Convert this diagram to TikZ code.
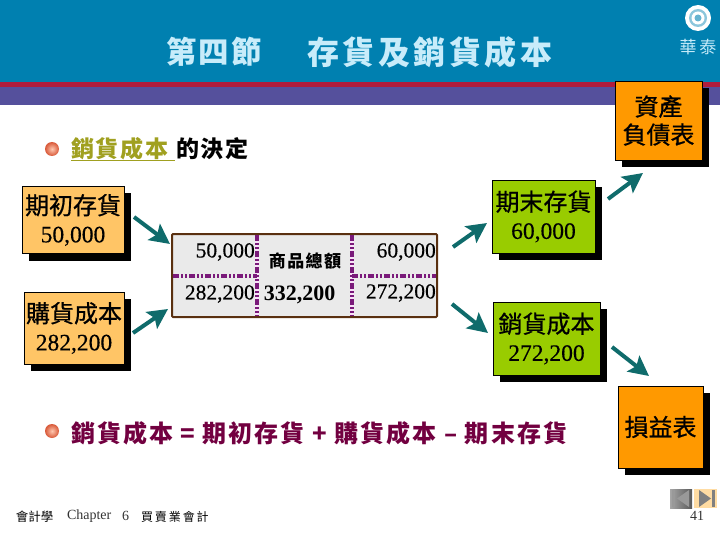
\documentclass[tikz,border=0pt]{standalone}
\usepackage{fontspec}
\setmainfont{Liberation Serif}
\newfontfamily\numfont[FakeBold=0.35]{Liberation Serif}
\newfontfamily\cjk[FakeBold=0.7]{Noto Sans CJK TC}
\newfontfamily\cjkplain{Noto Sans CJK TC}
\newfontfamily\cjksp[LetterSpace=8]{Noto Sans CJK TC}
\newfontfamily\cjkspb[LetterSpace=8.5]{Noto Sans CJK TC}
\newfontfamily\cjkspc[LetterSpace=11]{Noto Sans CJK TC}
\newfontfamily\cjkwide[LetterSpace=16]{Noto Sans CJK TC}
\usetikzlibrary{arrows.meta,shadows}
\definecolor{band}{HTML}{0080B0}
\definecolor{redline}{HTML}{B01C3C}
\definecolor{purpband}{HTML}{55509C}
\definecolor{titlec}{HTML}{C8ECFA}
\definecolor{lightor}{HTML}{FFC566}
\definecolor{strongor}{HTML}{FF9900}
\definecolor{boxgreen}{HTML}{99CC00}
\definecolor{tablefill}{HTML}{EAEAEA}
\definecolor{tableedge}{HTML}{5A3010}
\definecolor{dashc}{HTML}{7A1A7A}
\definecolor{dashbg}{HTML}{F8E0F8}
\definecolor{arrowc}{HTML}{0F6B6B}
\definecolor{olive}{HTML}{A0A020}
\definecolor{maroon}{HTML}{720040}
\definecolor{ballin}{HTML}{FFC8B0}
\definecolor{ballout}{HTML}{D85838}
\tikzset{
  cardbox/.style={draw=black,line width=0.8pt,inner sep=0pt,outer sep=0pt,align=center,
    general shadow={fill=black,shadow xshift=7pt,shadow yshift=-7pt},
    font=\fontsize{23.5}{29}\selectfont\numfont},
  flow/.style={draw=arrowc,line width=4pt,-{Stealth[length=20pt,width=20pt,inset=4pt]}},
  dividerbg/.style={draw=dashbg,line width=3.5pt},
  divider/.style={draw=dashc,line width=3.2pt,dash pattern=on 6pt off 2pt on 2pt off 2pt on 2pt off 2pt},
  cellnum/.style={anchor=east,inner sep=0pt,font=\fontsize{21.5}{21.5}\selectfont\numfont},
  ballbullet/.style={circle,minimum size=14pt,inner sep=0pt,shading=radial,inner color=ballin,outer color=ballout},
  plain/.style={inner sep=0pt,outer sep=0pt},
}
\newcommand{\cj}[1]{{\fontsize{24}{29}\selectfont\cjk #1}}
\begin{document}
\begin{tikzpicture}[x=1pt,y=-1pt]
\useasboundingbox (0,0) rectangle (720,540);
% banner
\fill[band] (0,0) rectangle (720,82);
\fill[redline] (0,82) rectangle (720,87);
\fill[purpband] (0,87) rectangle (720,105);
% logo
\fill[white] (698,18) circle (13);
\fill[band!45!white] (698,18) circle (9);
\fill[white] (698,18) circle (6.5);
\fill[band!60!white] (698,18) circle (3.5);
\node[plain,text=titlec,font=\fontsize{17}{17}\selectfont\cjkwide] (logotext) at (698,47) {華泰};
% title
\node[plain,anchor=west,text=titlec,font=\fontsize{30.5}{30}\selectfont\cjksp\bfseries] (t1) at (166,52) {第四節};
\node[plain,anchor=west,text=titlec,font=\fontsize{32}{32}\selectfont\cjkspc\bfseries] (t2) at (307,52) {存貨及銷貨成本};
% bullets
\node[ballbullet] (b1) at (52,149) {};
\node[plain,anchor=west,text=olive,font=\fontsize{23}{23}\selectfont\cjksp\bfseries] (h1) at (71,149) {銷貨成本};
\draw[olive,line width=1.5pt] (71,160.5) -- (175,160.5);
\node[plain,anchor=west,font=\fontsize{23}{23}\selectfont\cjksp\bfseries] (h2) at (176,149) {的決定};
\node[ballbullet] (b2) at (52,431) {};
\node[plain,anchor=west,text=maroon,font=\fontsize{24}{24}\selectfont\cjkspb\bfseries] (eq) at (71,433) {銷貨成本 = 期初存貨 + 購貨成本 – 期末存貨};
% boxes
\node[cardbox,fill=strongor,minimum width=87pt,minimum height=79pt] (bs) at (658.5,120.5) {\cj{資產}\\[-1pt]\cj{負債表}};
\node[cardbox,fill=lightor,minimum width=102pt,minimum height=67pt] (open) at (73,220) {\cj{期初存貨}\\[-1pt]50,000};
\node[cardbox,fill=lightor,minimum width=100pt,minimum height=72pt] (purch) at (74,328) {\cj{購貨成本}\\[-1pt]282,200};
\node[cardbox,fill=boxgreen,minimum width=103pt,minimum height=73pt] (end) at (543.5,216.5) {\cj{期末存貨}\\[-1pt]60,000};
\node[cardbox,fill=boxgreen,minimum width=107pt,minimum height=73pt] (cogs) at (546.5,338.5) {\cj{銷貨成本}\\[-1pt]272,200};
\node[cardbox,fill=strongor,minimum width=85pt,minimum height=82pt] (is) at (660.5,427) {\cj{損益表}};
% table
\node[draw=tableedge,fill=tablefill,line width=2pt,rounded corners=1pt,minimum width=265pt,minimum height=83pt,inner sep=0pt,outer sep=0pt] (tbl) at (304.5,275.5) {};
\coordinate (v1t) at (257,235); \coordinate (v1b) at (257,316);
\coordinate (v2t) at (352,235); \coordinate (v2b) at (352,316);
\coordinate (h1l) at (173,276); \coordinate (h1r) at (257,276);
\coordinate (h2l) at (352,276); \coordinate (h2r) at (436,276);
\draw[dividerbg] (v1t) -- (v1b);
\draw[dividerbg] (v2t) -- (v2b);
\draw[divider] (v1t) -- (v1b);
\draw[divider] (v2t) -- (v2b);
\draw[divider] (h1l) -- (h1r);
\draw[divider] (h2l) -- (h2r);
\node[cellnum] (c1) at (255,252) {50,000};
\node[cellnum] (c2) at (255,294) {282,200};
\node[cellnum] (c3) at (436,252) {60,000};
\node[cellnum] (c4) at (436,293) {272,200};
\node[plain,font=\fontsize{17}{17}\selectfont\cjksp\bfseries] (c5) at (305,261) {商品總額};
\node[plain,font=\fontsize{22}{22}\selectfont\bfseries] (c6) at (299.5,295) {332,200};
% arrows
\coordinate (s1) at (134,217); \coordinate (e1) at (170,244);
\coordinate (s2) at (133,333); \coordinate (e2) at (168,309);
\coordinate (s3) at (453,247); \coordinate (e3) at (487,223);
\coordinate (s4) at (452,304); \coordinate (e4) at (488,333);
\coordinate (s5) at (608,199); \coordinate (e5) at (643,173);
\coordinate (s6) at (612,347); \coordinate (e6) at (649,376);
\draw[flow] (s1) -- (e1);
\draw[flow] (s2) -- (e2);
\draw[flow] (s3) -- (e3);
\draw[flow] (s4) -- (e4);
\draw[flow] (s5) -- (e5);
\draw[flow] (s6) -- (e6);
% footer
\node[plain,anchor=west,font=\fontsize{12.5}{12}\selectfont\cjkplain] (f1) at (16,517) {會計學};
\node[plain,anchor=west,font=\fontsize{14}{14}\selectfont,text=black!80] (f2) at (67,516) {Chapter};
\node[plain,anchor=west,font=\fontsize{14}{14}\selectfont,text=black!80] (f3) at (122,516) {6};
\node[plain,anchor=west,font=\fontsize{12}{12}\selectfont\cjkwide] (f4) at (141,517) {買賣業會計};
\node[plain,font=\fontsize{14}{14}\selectfont,text=black!80] (pg) at (697,516) {41};
% nav buttons
\shade[left color=black!35,right color=black!65] (670,489) rectangle (692,508);
\fill[black!40] (689,490) -- (677,498.5) -- (689,507) -- cycle;
\fill[black!40] (672,490) rectangle (675,507);
\fill[lightor!60!white] (694,489) rectangle (717,508);
\fill[black!50] (699,490) -- (711,498.5) -- (699,507) -- cycle;
\fill[black!50] (712,490) rectangle (715,507);
\end{tikzpicture}
\end{document}
